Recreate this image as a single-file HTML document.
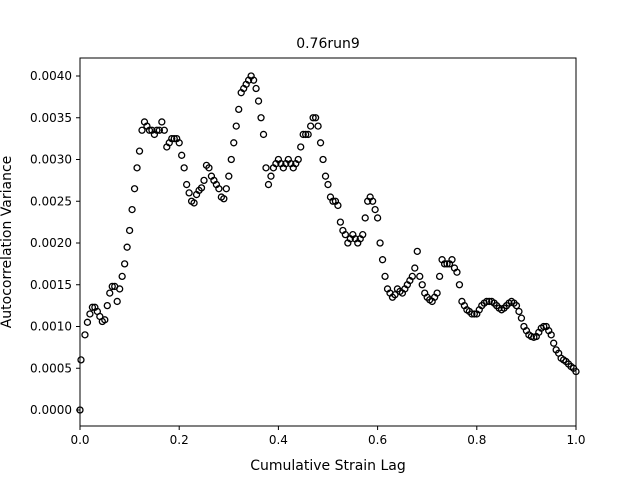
<!DOCTYPE html>
<html><head><meta charset="utf-8"><style>
body{margin:0;background:#fff}
svg text{font-family:"DejaVu Sans","Liberation Sans",sans-serif;fill:#000}
</style></head><body>
<svg id="chart" width="640" height="480">
<rect width="640" height="480" fill="#fff"/>
<text x="328" y="48" font-size="14" text-anchor="middle">0.76run9</text>
<text x="328" y="470" font-size="14" text-anchor="middle">Cumulative Strain Lag</text>
<text transform="translate(11,242) rotate(-90)" font-size="14" text-anchor="middle">Autocorrelation Variance</text>
<g id="ticks"></g>
<g id="points"></g>
<rect x="80" y="58" width="496" height="368" fill="none" stroke="#000" stroke-width="1"/>
</svg>
<script>
const xStep=0.005;
const ysE4=[0,6,9,10.5,11.5,12.3,12.3,11.8,11.2,10.6,10.8,12.5,14,14.8,14.8,13,14.5,16,17.5,19.5,
21.5,24,26.5,29,31,33.5,34.5,34,33.5,33.5,33,33.5,33.5,34.5,33.5,31.5,32,32.5,32.5,32.5,
32,30.5,29,27,26,25,24.8,25.8,26.3,26.6,27.5,29.3,29,28,27.5,27,26.5,25.5,25.3,26.5,
28,30,32,34,36,38,38.5,39,39.5,40,39.5,38.5,37,35,33,29,27,28,29,29.5,
30,29.5,29,29.5,30,29.5,29,29.5,30,31.5,33,33,33,34,35,35,34,32,30,28,
27,25.5,25,25,24.5,22.5,21.5,21,20,20.5,21,20.5,20,20.5,21,23,25,25.5,25,24,
23,20,18,16,14.5,14,13.5,13.8,14.5,14.2,14,14.5,15,15.5,16,17,19,16,15,14,
13.5,13.2,13,13.5,14,16,18,17.5,17.5,17.5,18,17,16.5,15,13,12.5,12,11.8,11.5,11.5,
11.5,12,12.5,12.8,13,13,13,12.8,12.5,12.2,12,12.2,12.5,12.8,13,12.8,12.5,11.8,11,10,
9.5,9,8.8,8.7,8.8,9.3,9.8,10,10,9.5,9,8,7.2,6.8,6.2,6,5.8,5.5,5.2,5,4.6];
const xTicks=[0,0.2,0.4,0.6,0.8,1.0];
const xTickLabels=["0.0","0.2","0.4","0.6","0.8","1.0"];
const yTicks=[0,0.0005,0.001,0.0015,0.002,0.0025,0.003,0.0035,0.004];
const yTickLabels=["0.0000","0.0005","0.0010","0.0015","0.0020","0.0025","0.0030","0.0035","0.0040"];
const NS="http://www.w3.org/2000/svg";
function sx(v){return 80+v*496;}
function sy(v){return 410-v/0.0005*41.75;}
const tg=document.getElementById('ticks');
xTicks.forEach((t,i)=>{
 const l=document.createElementNS(NS,'line');
 l.setAttribute('x1',sx(t));l.setAttribute('x2',sx(t));l.setAttribute('y1',426);l.setAttribute('y2',430);l.setAttribute('stroke','#000');
 
 
 tg.appendChild(l);
 const tx=document.createElementNS(NS,'text');
 tx.setAttribute('x',sx(t));tx.setAttribute('y',444);tx.setAttribute('font-size','12');tx.setAttribute('text-anchor','middle');
 tx.textContent=xTickLabels[i];
 
 
 tg.appendChild(tx);
});
yTicks.forEach((t,i)=>{
 const l=document.createElementNS(NS,'line');
 l.setAttribute('x1',76);l.setAttribute('x2',80);l.setAttribute('y1',sy(t));l.setAttribute('y2',sy(t));l.setAttribute('stroke','#000');
 
 
 tg.appendChild(l);
 const tx=document.createElementNS(NS,'text');
 tx.setAttribute('x',72);tx.setAttribute('y',sy(t)+4);tx.setAttribute('font-size','12');tx.setAttribute('text-anchor','end');
 tx.textContent=yTickLabels[i];
 
 
 tg.appendChild(tx);
});
const pg=document.getElementById('points');
ysE4.forEach((v,i)=>{
 const x=i===1?0.002:i*xStep;
 const c=document.createElementNS(NS,'circle');
 c.setAttribute('cx',sx(x));c.setAttribute('cy',sy(v*1e-4));c.setAttribute('r',3);
 c.setAttribute('fill','none');c.setAttribute('stroke','#000');c.setAttribute('stroke-width','1.3');
 
 
 pg.appendChild(c);
});
</script>
</body></html>
